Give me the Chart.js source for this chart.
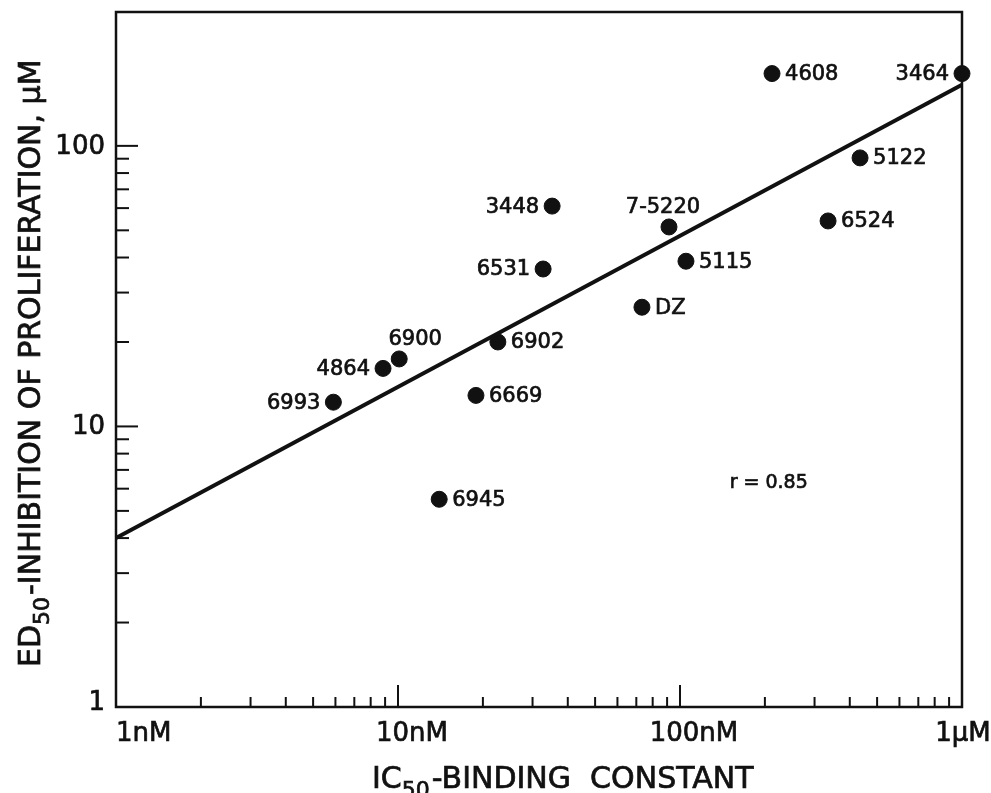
<!DOCTYPE html>
<html>
<head>
<meta charset="utf-8">
<script src="https://cdn.jsdelivr.net/npm/chart.js@4/dist/chart.umd.min.js"></script>
<style>
  body { margin: 0; background: #fff; }
  #box { width: 991px; height: 793px; }
</style>
</head>
<body>
<div id="box"><canvas id="graph"></canvas></div>
<script>
// =========================== Data (IC50 in nM, ED50 in uM)
const compounds = ['6993', '4864', '6900', '6902', '6669', '6945', '3448', '6531', '7-5220', '5115', 'DZ', '4608', '3464', '5122', '6524']
const ic50 = [5.9, 8.85, 10.1, 22.6, 18.9, 14.0, 35.2, 32.7, 91.4, 105, 73.3, 212, 1000, 435, 335]
const ed50 = [12.2, 16.1, 17.4, 20.0, 12.9, 5.5, 61, 36.4, 51.4, 38.8, 26.6, 181, 181, 90.6, 54]

// regression line ends
const fitX = [1, 1000]
const fitY = [4.0, 165]
const rText = 'r = 0.85'
const rAt = [150, 6.3]

// ticks
const xMajor = [1, 10, 100, 1000]
const xMajorLabels = ['1nM', '10nM', '100nM', '1μM']
const xMinor = [2, 3, 4, 5, 6, 7, 8, 9, 20, 30, 40, 50, 60, 70, 80, 90, 200, 300, 400, 500, 600, 700, 800, 900]
const yMajor = [1, 10, 100]
const yMajorLabels = ['1', '10', '100']
const yMinor = [2, 3, 4, 5, 6, 7, 8, 9, 20, 30, 40, 50, 60, 70, 80, 90]

// label placement: L = left of dot, R = right, T = above
const labelSide = {
    '6993': 'L', '4864': 'L', '6900': 'T', '6902': 'R', '6669': 'R', '6945': 'R',
    '3448': 'L', '6531': 'L', '7-5220': 'T', '5115': 'R', 'DZ': 'R', '4608': 'R',
    '3464': 'L', '5122': 'R', '6524': 'R'
}

const FONT = '"DejaVu Sans", sans-serif'

function line(ctx, x1, y1, x2, y2){
    ctx.beginPath()
    ctx.moveTo(x1, y1)
    ctx.lineTo(x2, y2)
    ctx.stroke()
}

// the scanned lettering is a bit heavier than the regular face
function txt(ctx, s, x, y){
    ctx.fillText(s, x, y)
    ctx.lineWidth = 0.7
    ctx.strokeText(s, x, y)
}

// text with a subscript part: parts = [[text, isSub], ...]
function subText(ctx, parts, x, y, size){
    let cx = x
    parts.forEach(p => {
        const sub = p[1]
        ctx.font = (sub ? Math.round(size * 0.72) : size) + 'px ' + FONT
        txt(ctx, p[0], cx, sub ? y + size * 0.3 : y)
        cx += ctx.measureText(p[0]).width + (sub ? 2 : 0)
    })
}

const overlay = {
    id: 'overlay',
    afterDraw(chart){
        const ctx = chart.ctx
        const a = chart.chartArea
        const x = chart.scales.x
        const y = chart.scales.y
        ctx.save()
        ctx.strokeStyle = '#111'
        ctx.fillStyle = '#111'

        // frame
        ctx.lineWidth = 2.5
        ctx.strokeRect(a.left, a.top, a.right - a.left, a.bottom - a.top)

        // inner ticks
        ctx.lineWidth = 2
        xMajor.forEach(v => { const p = x.getPixelForValue(v); line(ctx, p, a.bottom, p, a.bottom - 22) })
        xMinor.forEach(v => { const p = x.getPixelForValue(v); line(ctx, p, a.bottom, p, a.bottom - 10) })
        yMajor.forEach(v => { const p = y.getPixelForValue(v); line(ctx, a.left, p, a.left + 22, p) })
        yMinor.forEach(v => { const p = y.getPixelForValue(v); line(ctx, a.left, p, a.left + 13, p) })

        // tick labels
        ctx.font = '26px ' + FONT
        ctx.textBaseline = 'middle'
        ctx.textAlign = 'right'
        yMajor.forEach((v, i) => {
            txt(ctx, yMajorLabels[i], a.left - 11, y.getPixelForValue(v) + (i === 0 ? -4 : 1))
        })
        ctx.textBaseline = 'alphabetic'
        xMajor.forEach((v, i) => {
            const p = x.getPixelForValue(v)
            if(i === 0){
                ctx.textAlign = 'left'
                txt(ctx, xMajorLabels[i], p, a.bottom + 34)
            }else{
                ctx.textAlign = 'center'
                txt(ctx, xMajorLabels[i], p + (i === 3 ? 1 : 14), a.bottom + 34)
            }
        })

        // point labels
        ctx.font = '21px ' + FONT
        ctx.textBaseline = 'middle'
        compounds.forEach((name, i) => {
            const px = x.getPixelForValue(ic50[i])
            const py = y.getPixelForValue(ed50[i])
            const side = labelSide[name]
            if(side === 'L'){
                ctx.textAlign = 'right'
                txt(ctx, name, px - 13, py + 1)
            }else if(side === 'R'){
                ctx.textAlign = 'left'
                txt(ctx, name, px + 13, py + 1)
            }else{
                ctx.textAlign = 'center'
                txt(ctx, name, px + (name === '6900' ? 16 : -6), py - 19)
            }
        })

        // r value
        ctx.font = '19px ' + FONT
        ctx.textAlign = 'left'
        txt(ctx, rText, x.getPixelForValue(rAt[0]), y.getPixelForValue(rAt[1]))

        // axis titles
        ctx.textAlign = 'left'
        ctx.textBaseline = 'alphabetic'
        subText(ctx, [['IC', false], ['50', true], ['-BINDING  CONSTANT', false]], 372, 788, 30)

        ctx.translate(40, 667)
        ctx.rotate(-Math.PI / 2)
        subText(ctx, [['ED', false], ['50', true], ['-INHIBITION OF PROLIFERATION, μM', false]], 0, 0, 30)
        ctx.restore()
    }
}

// =========================== Chart
const dots = ic50.map((v, i) => ({x: v, y: ed50[i]}))
const fit = fitX.map((v, i) => ({x: v, y: fitY[i]}))

new Chart(document.getElementById('graph'), {
    type: 'scatter',
    data: {
        datasets: [{
            data: fit,
            showLine: true,
            borderColor: '#111',
            borderWidth: 4,
            pointRadius: 0,
            clip: false,
        },{
            data: dots,
            backgroundColor: '#111',
            borderColor: '#111',
            pointRadius: 8,
            clip: false,
        }]
    },
    options: {
        responsive: true,
        maintainAspectRatio: false,
        animation: false,
        layout: { padding: { top: 12, right: 29, left: 0, bottom: 0 } },
        scales: {
            x: {
                type: 'logarithmic',
                min: 1,
                max: 1000,
                grid: { display: false },
                border: { display: false },
                ticks: { display: false },
                afterFit: s => { s.height = 86 }
            },
            y: {
                type: 'logarithmic',
                min: 1,
                max: 300,
                grid: { display: false },
                border: { display: false },
                ticks: { display: false },
                afterFit: s => { s.width = 116 }
            }
        },
        plugins: {
            legend: { display: false },
            tooltip: { enabled: false }
        }
    },
    plugins: [overlay]
})
</script>
</body>
</html>
